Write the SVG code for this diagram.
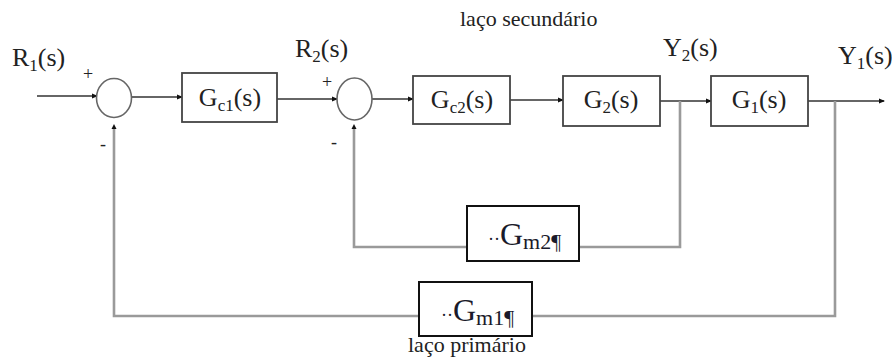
<svg xmlns="http://www.w3.org/2000/svg" width="892" height="363" viewBox="0 0 892 363" font-family="'Liberation Serif', 'DejaVu Serif', serif">
<defs>
<marker id="dot" viewBox="0 0 6 6" refX="5" refY="3" markerWidth="6" markerHeight="6" markerUnits="userSpaceOnUse" orient="auto">
<path d="M0,0.5 L6,3 L0,5.5 Z" fill="#111"/>
</marker>
<style>
text{font-family:'Liberation Serif','DejaVu Serif',serif;fill:#222}
.lbl{font-size:26px}
.sub{font-size:17px}
.small{font-size:22px}
.sign{font-size:18px}
.fwd{fill:none;stroke:#333;stroke-width:1.6}
.fb{fill:none;stroke:#9a9a9a;stroke-width:2.6}
.blk{fill:#fff;stroke:#444;stroke-width:1.8}
.sum{fill:#fff;stroke:#666;stroke-width:1.6}
.gm{fill:#fff;stroke:#111;stroke-width:2}
.gmt{fill:#1a1a2a}
</style>
</defs>
<rect width="892" height="363" fill="#fff"/>

<g id="connectors">
<line class="fwd" x1="37" y1="96" x2="97" y2="96" marker-end="url(#dot)"/>
<line class="fwd" x1="132" y1="97" x2="182" y2="97" marker-end="url(#dot)"/>
<line class="fwd" x1="277" y1="99" x2="337" y2="99" marker-end="url(#dot)"/>
<line class="fwd" x1="372" y1="99" x2="413" y2="99" marker-end="url(#dot)"/>
<line class="fwd" x1="510" y1="100" x2="563" y2="100" marker-end="url(#dot)"/>
<line class="fwd" x1="660" y1="101" x2="711" y2="101" marker-end="url(#dot)"/>
<line class="fwd" x1="808" y1="101" x2="884" y2="101" marker-end="url(#dot)"/>
<polyline class="fb" points="680,101 680,247 354,247 354,128"/>
<polyline class="fb" points="835,101 835,316 114,316 114,128"/>
<path d="M354,124 l-2.5,5 h5 Z" fill="#111"/>
<path d="M114,124 l-2.5,5 h5 Z" fill="#111"/>
</g>

<g id="sum1">
<ellipse class="sum" cx="114" cy="98" rx="17.5" ry="19.5"/>
<text class="sign" x="83" y="80">+</text>
<text class="sign" x="100" y="150">-</text>
</g>
<g id="sum2">
<ellipse class="sum" cx="354.5" cy="99" rx="17.5" ry="21"/>
<text class="sign" x="322" y="88">+</text>
<text class="sign" x="331" y="148">-</text>
</g>

<g id="Gc1">
<rect class="blk" x="182" y="73" width="95" height="49"/>
<text class="lbl" x="230" y="106" text-anchor="middle">G<tspan class="sub" dy="5">c1</tspan><tspan dy="-5">(s)</tspan></text>
</g>
<g id="Gc2">
<rect class="blk" x="413" y="76" width="97" height="48"/>
<text class="lbl" x="462" y="108" text-anchor="middle">G<tspan class="sub" dy="5">c2</tspan><tspan dy="-5">(s)</tspan></text>
</g>
<g id="G2">
<rect class="blk" x="563" y="76" width="97" height="50"/>
<text class="lbl" x="611" y="108" text-anchor="middle">G<tspan class="sub" dy="5">2</tspan><tspan dy="-5">(s)</tspan></text>
</g>
<g id="G1">
<rect class="blk" x="711" y="76" width="97" height="50"/>
<text class="lbl" x="759" y="108" text-anchor="middle">G<tspan class="sub" dy="5">1</tspan><tspan dy="-5">(s)</tspan></text>
</g>
<g id="Gm2">
<rect class="gm" x="467" y="206" width="112" height="55"/>
<text class="gmt" x="488" y="245"><tspan font-size="18">··</tspan><tspan font-size="32">G</tspan><tspan font-size="22" dy="4">m2¶</tspan></text>
</g>
<g id="Gm1">
<rect class="gm" x="419" y="282" width="113" height="54"/>
<text class="gmt" x="441" y="321"><tspan font-size="18">··</tspan><tspan font-size="32">G</tspan><tspan font-size="22" dy="4">m1¶</tspan></text>
</g>

<g id="labels">
<text class="lbl" x="12" y="66">R<tspan class="sub" dy="5">1</tspan><tspan dy="-5">(s)</tspan></text>
<text class="lbl" x="295" y="57">R<tspan class="sub" dy="5">2</tspan><tspan dy="-5">(s)</tspan></text>
<text class="lbl" x="663" y="56">Y<tspan class="sub" dy="5">2</tspan><tspan dy="-5">(s)</tspan></text>
<text class="lbl" x="838" y="64">Y<tspan class="sub" dy="5">1</tspan><tspan dy="-5">(s)</tspan></text>
<text class="small" x="460" y="26">laço secundário</text>
<text class="small" x="408" y="352">laço primário</text>
</g>
</svg>
